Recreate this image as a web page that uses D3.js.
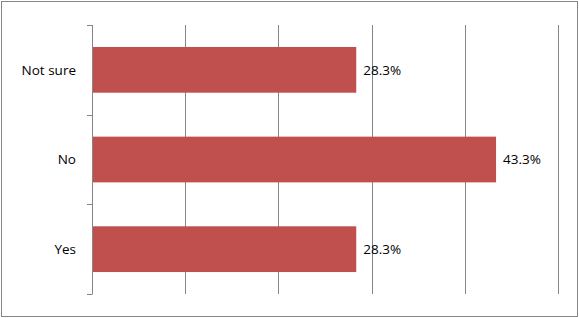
<!DOCTYPE html>
<html>
<head>
<meta charset="utf-8">
<script src="https://cdn.jsdelivr.net/npm/d3@7"></script>
<style>
  body { margin: 0; background: #fff; }
</style>
</head>
<body>
<div id="chart"></div>
<script>
const width = 579;
const height = 318;

const categories = ["Not sure", "No", "Yes"];
const values = [0.283, 0.433, 0.283];
const ticks = [0, 0.1, 0.2, 0.3, 0.4, 0.5];

const x = d3.scaleLinear()
  .domain([0, 0.5])
  .range([92.5, 558.5]);

const y = d3.scaleBand()
  .domain(categories)
  .range([25, 294])
  .paddingInner(0.49)
  .paddingOuter(0.245);

const svg = d3.select("#chart")
  .append("svg")
  .attr("width", width)
  .attr("height", height)
  .style("font", "13.5px 'Open Sans', sans-serif");

// outer frame
svg.append("rect")
  .attr("x", 1.5)
  .attr("y", 1.5)
  .attr("width", width - 3)
  .attr("height", height - 3)
  .attr("fill", "#fff")
  .attr("stroke", "#868686");

// vertical gridlines
svg.selectAll("line.grid")
  .data(ticks.slice(1))
  .enter()
  .append("line")
  .attr("class", "grid")
  .attr("x1", function(d) { return Math.floor(x(d)) + 0.5; })
  .attr("x2", function(d) { return Math.floor(x(d)) + 0.5; })
  .attr("y1", 25)
  .attr("y2", 294)
  .attr("stroke", "#868686");

// category axis
const bounds = [25, 25 + (294 - 25) / 3, 25 + 2 * (294 - 25) / 3, 294];

svg.append("line")
  .attr("x1", 92.5)
  .attr("x2", 92.5)
  .attr("y1", 25)
  .attr("y2", 294)
  .attr("stroke", "#868686");

svg.selectAll("line.tick")
  .data(bounds)
  .enter()
  .append("line")
  .attr("class", "tick")
  .attr("x1", 87)
  .attr("x2", 92.5)
  .attr("y1", function(d) { return Math.round(d) + 0.5; })
  .attr("y2", function(d) { return Math.round(d) + 0.5; })
  .attr("stroke", "#868686");

// bars
svg.selectAll("rect.bar")
  .data(values)
  .enter()
  .append("rect")
  .attr("class", "bar")
  .attr("x", x(0) + 0.5)
  .attr("y", function(d, i) { return y(categories[i]); })
  .attr("width", function(d) { return x(d) - x(0) - 0.5; })
  .attr("height", y.bandwidth())
  .attr("fill", "#C0504D");

// value labels
svg.selectAll("text.value")
  .data(values)
  .enter()
  .append("text")
  .attr("class", "value")
  .attr("x", function(d) { return x(d) + 7; })
  .attr("y", function(d, i) { return y(categories[i]) + y.bandwidth() / 2; })
  .attr("dy", "0.35em")
  .attr("fill", "#000")
  .text(function(d) { return d3.format(".1%")(d); });

// category labels
svg.selectAll("text.cat")
  .data(categories)
  .enter()
  .append("text")
  .attr("class", "cat")
  .attr("x", 76)
  .attr("y", function(d) { return y(d) + y.bandwidth() / 2; })
  .attr("dy", "0.35em")
  .attr("text-anchor", "end")
  .attr("fill", "#000")
  .text(function(d) { return d; });
</script>
</body>
</html>
